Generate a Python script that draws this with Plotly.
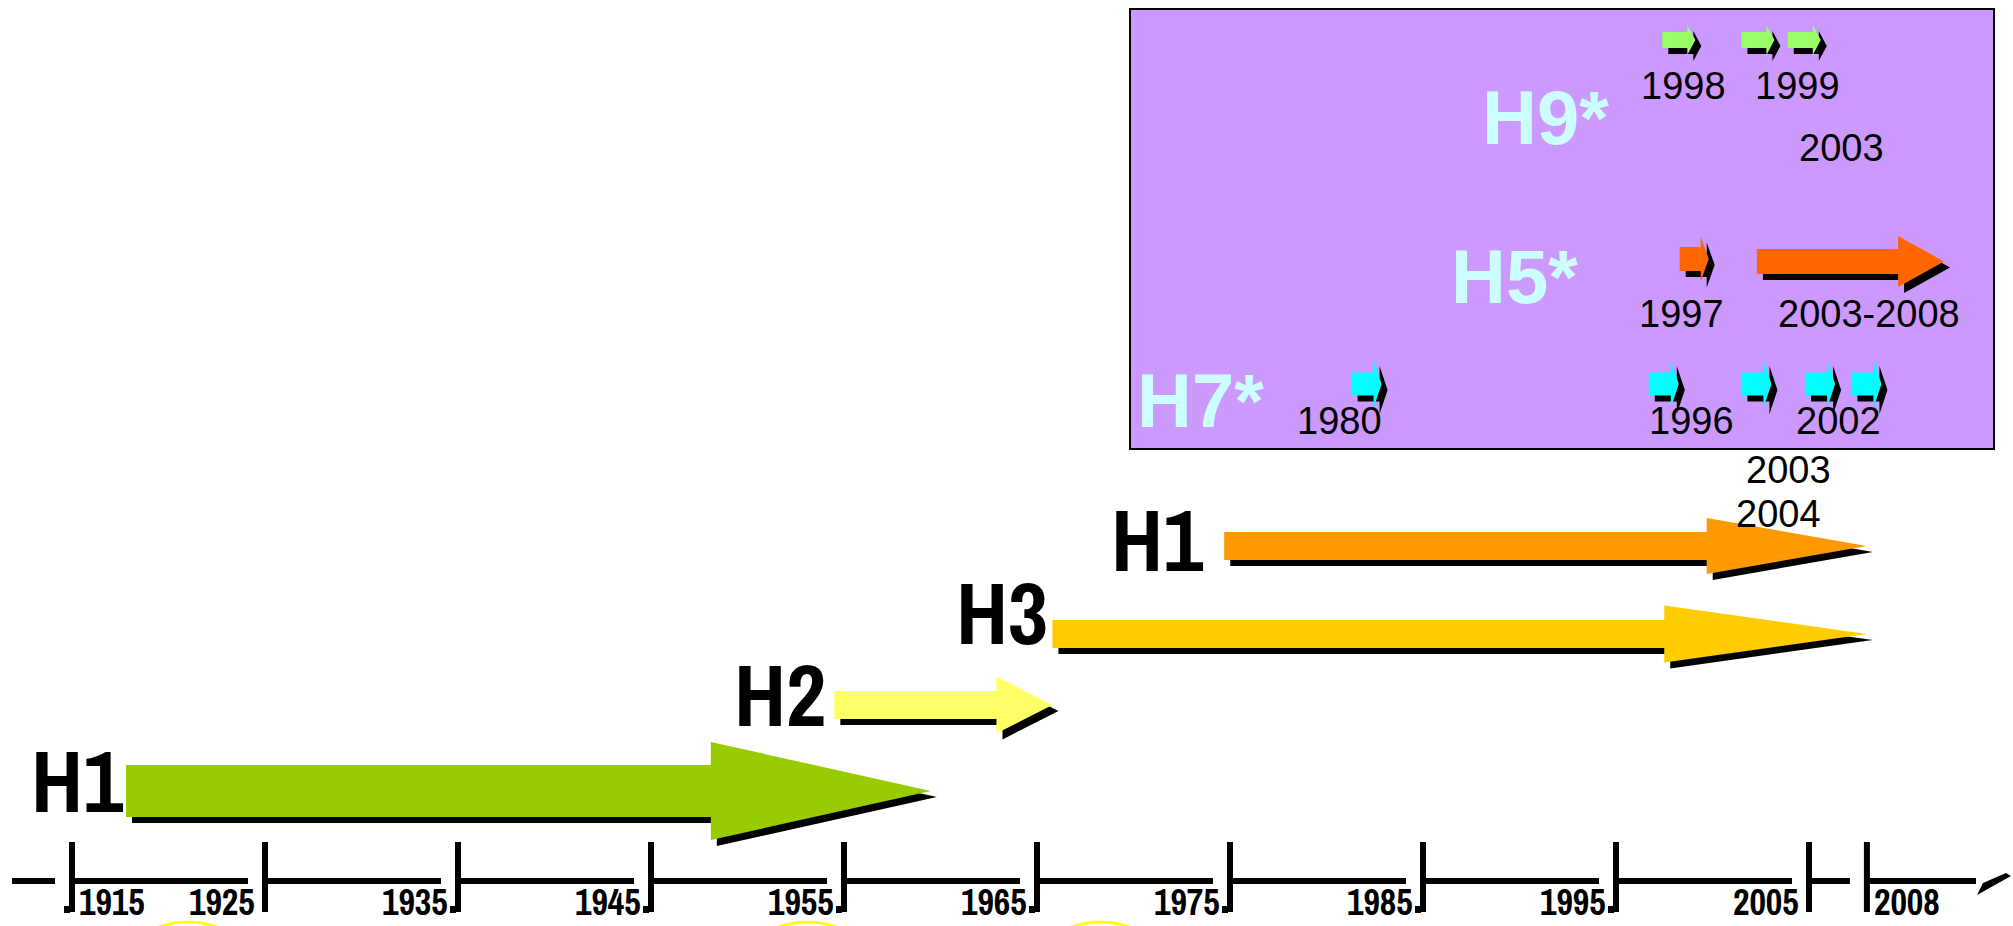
import plotly.graph_objects as go

# ---------------- data ----------------
tick_years = [1915, 1925, 1935, 1945, 1955, 1965, 1975, 1985, 1995, 2005, 2008]
tick_labels = ["1915", "1925", "1935", "1945", "1955", "1965", "1975", "1985", "1995", "2005", "2008"]

main_names = ["H1", "H2", "H3", "H1"]
main_start = [1917.8, 1954.5, 1965.8, 1974.7]
main_end = [1959.5, 1965.8, 2008.0, 2008.0]

marked_years = [1921.0, 1953.1, 1968.3]

inset_names = ["H9*", "H5*", "H7*"]
h9_events = [1997.4, 2001.5, 2003.9]
h5_events = [1998.3]
h5_period = [2002.3, 2012.0]
h7_events = [1981.3, 1996.7, 2001.5, 2004.8, 2007.2]

h9_labels = ["1998", "1999", "2003"]
h5_labels = ["1997", "2003-2008"]
h7_labels = ["1980", "1996", "2002", "2003", "2004"]

# ---------------- layout / style ----------------
W, H = 2013, 926
PX_PER_YEAR = 19.3
X_MIN = 1915 - 72 / PX_PER_YEAR
X_MAX = X_MIN + W / PX_PER_YEAR


def yr(n):
    """horizontal length in pixels -> years on the x axis"""
    return n / PX_PER_YEAR


NARROW = "Archivo Narrow, Roboto Condensed, Liberation Sans Narrow, sans-serif"
REG = "Liberation Sans, Arial, Helvetica, sans-serif"

main_colors = ["#99CC00", "#FFFF66", "#FFCC00", "#FF9900"]
main_lane = [791, 705, 634, 546]
main_body_h = [52, 28, 28, 28]
main_head_h = [98, 57, 57, 56]
main_head_len = [11.4, 2.9, 10.5, 8.3]
main_label_dy = [-11, -11, -22, -7]
main_label_dx = [0, -6, -2, -18]

SHADOW_DX, SHADOW_DY = yr(6), 6

fig = go.Figure()


def arrow_xy(x0, x1, yc, bh, hh, hl):
    xb = x1 - hl
    xs = [x0, xb, xb, x1, xb, xb, x0, x0]
    ys = [yc - bh / 2, yc - bh / 2, yc - hh / 2, yc, yc + hh / 2, yc + bh / 2, yc + bh / 2, yc - bh / 2]
    return xs, ys


def add_arrows(polys, color):
    sx, sy, cx, cy = [], [], [], []
    for xs, ys in polys:
        sx += [v + SHADOW_DX for v in xs] + [None]
        sy += [v + SHADOW_DY for v in ys] + [None]
        cx += xs + [None]
        cy += ys + [None]
    fig.add_trace(go.Scatter(x=sx, y=sy, mode="lines", fill="toself", fillcolor="black",
                             line=dict(width=0, color="black"), hoverinfo="skip", showlegend=False))
    fig.add_trace(go.Scatter(x=cx, y=cy, mode="lines", fill="toself", fillcolor=color,
                             line=dict(width=0, color=color), hoverinfo="skip", showlegend=False))


# ---- inset panel ----
fig.add_shape(type="rect", xref="paper", yref="paper",
              x0=1130 / W, x1=1994 / W, y0=1 - 449 / H, y1=1 - 9 / H,
              fillcolor="#CC99FF", line=dict(color="black", width=2), layer="below")

# ---- main arrows ----
for i in range(len(main_names)):
    add_arrows([arrow_xy(main_start[i], main_end[i], main_lane[i], main_body_h[i],
                         main_head_h[i], main_head_len[i])], main_colors[i])
    fig.add_annotation(x=main_start[i], y=main_lane[i] + main_label_dy[i], text=main_names[i],
                       xanchor="right", yanchor="middle", xshift=main_label_dx[i], showarrow=False,
                       font=dict(family=NARROW, size=88, color="black", weight="bold"))

# ---- inset arrows ----
add_arrows([arrow_xy(e, e + yr(25 + 8), 40, 16, 30, yr(8)) for e in h9_events], "#99FF66")
h5_polys = [arrow_xy(e, e + yr(21 + 8), 259, 24, 45, yr(8)) for e in h5_events]
h5_polys.append(arrow_xy(h5_period[0], h5_period[1], 261.5, 25, 51, yr(46)))
add_arrows(h5_polys, "#FF6600")
add_arrows([arrow_xy(e, e + yr(22 + 8), 384, 23, 48, yr(8)) for e in h7_events], "#00FFFF")

# inset series labels
inset_label_x = [X_MIN + yr(1545), X_MIN + yr(1514), X_MIN + yr(1200)]
inset_label_y = [117.5, 276, 400]
for name, lx, ly in zip(inset_names, inset_label_x, inset_label_y):
    fig.add_annotation(x=lx, y=ly, text=name, showarrow=False, xanchor="center", yanchor="middle",
                       font=dict(family=REG, size=76, color="#CCFFFF", weight="bold"))

# inset year labels
year_label_sets = [
    (h9_labels, [1683, 1797, 1841], [86, 86, 147.5]),
    (h5_labels, [1681.5, 1869], [314, 314]),
    (h7_labels, [1339.5, 1691.5, 1838, 1788, 1778], [421, 421, 421, 470, 514]),
]
for labels, xs, ys in year_label_sets:
    for t, lx, ly in zip(labels, xs, ys):
        fig.add_annotation(x=X_MIN + yr(lx), y=ly, text=t, showarrow=False,
                           xanchor="center", yanchor="middle",
                           font=dict(family=REG, size=38, color="black"))

# ---- timeline ----
LINE_Y = 881
GAP = yr(17)
seg_starts = [X_MIN + yr(12)] + tick_years
axis_end = X_MIN + yr(1976)
seg_ends = [tick_years[0] - GAP] + [t - GAP for t in tick_years[1:]] + [axis_end]
for s0, s1 in zip(seg_starts, seg_ends):
    fig.add_shape(type="line", x0=s0, x1=s1, y0=LINE_Y, y1=LINE_Y,
                  line=dict(color="black", width=6))
for t in tick_years:
    fig.add_shape(type="line", x0=t, x1=t, y0=842, y1=912, line=dict(color="black", width=6))
for t in tick_years[:-2]:
    if t == 1925:
        continue
    fig.add_shape(type="rect", x0=t - yr(8), x1=t - yr(2), y0=906, y1=913,
                  fillcolor="black", line=dict(width=0))
# broken end mark of the axis
ex = [axis_end + yr(1), axis_end + yr(7), axis_end + yr(30), axis_end + yr(35), axis_end + yr(1)]
ey = [895, 883, 873, 876, 895]
fig.add_trace(go.Scatter(x=ex, y=ey, mode="lines", fill="toself", fillcolor="black",
                         line=dict(width=0, color="black"), hoverinfo="skip", showlegend=False))

# tick labels: first and last to the right of their tick, the others just left of their tick foot
n_ticks = len(tick_years)
for i, (t, lab) in enumerate(zip(tick_years, tick_labels)):
    outer = i in (0, n_ticks - 1)
    fig.add_annotation(x=t, y=902, text=lab, showarrow=False,
                       xanchor="left" if outer else "right", yanchor="middle",
                       xshift=5 if outer else -8,
                       font=dict(family=NARROW, size=36, color="black", weight="bold"))

# pandemic markers (yellow circles, mostly below the visible area)
R = 90
for m in marked_years:
    fig.add_shape(type="circle", x0=m - yr(R), x1=m + yr(R), y0=922, y1=922 + 2 * R,
                  line=dict(color="#FFFF00", width=2.5), layer="below")

fig.update_layout(
    width=W, height=H, margin=dict(l=0, r=0, t=0, b=0),
    paper_bgcolor="white", plot_bgcolor="white", showlegend=False,
    xaxis=dict(range=[X_MIN, X_MAX], visible=False, fixedrange=True),
    yaxis=dict(range=[H, 0], visible=False, fixedrange=True),
)

fig.write_html("out.html", config={"displayModeBar": False},
               post_script="document.body.style.margin='0';document.body.style.overflow='hidden';")
